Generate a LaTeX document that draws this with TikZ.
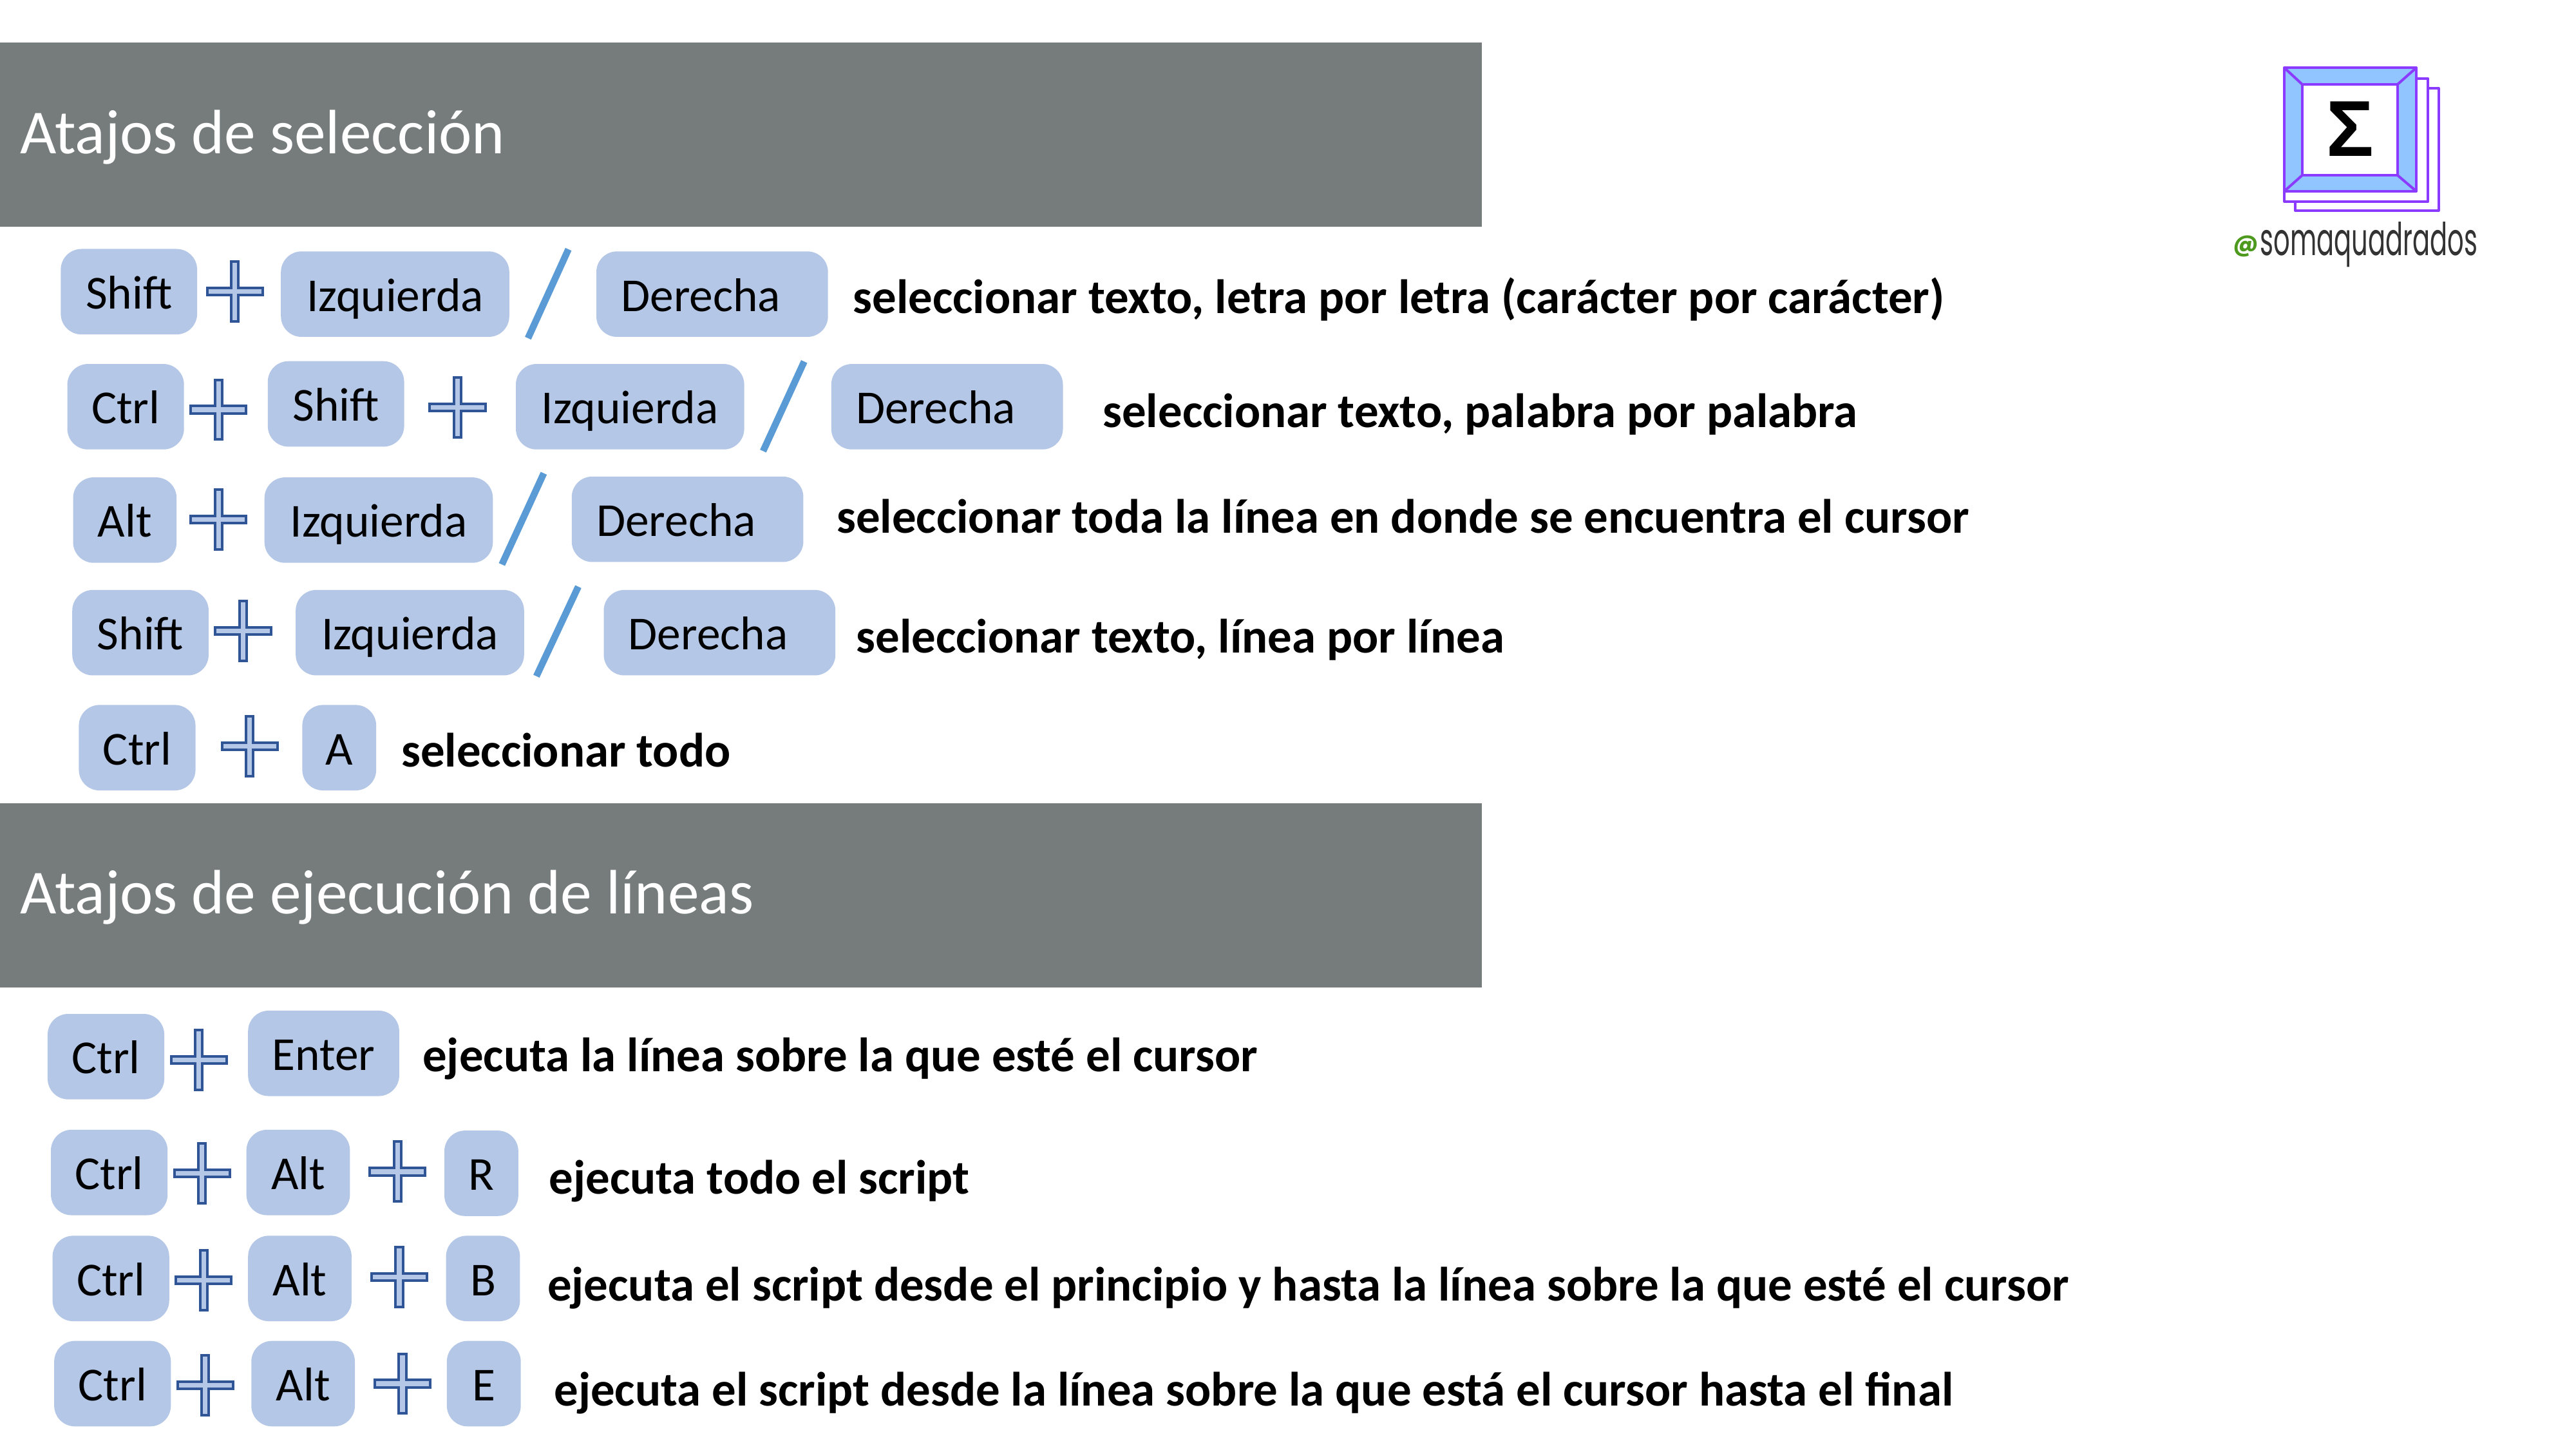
\documentclass[tikz,border=0pt]{standalone}
\usepackage{fontspec}
\setmainfont{Carlito}
\newfontfamily\logofont[FakeStretch=0.57]{Poppins}
\newfontfamily\atfont{Poppins}
\newfontfamily\sigmafont{Liberation Sans}
\usetikzlibrary{positioning}
\newcommand{\unit}{0.02551cm}
\definecolor{bannergray}{HTML}{767B7B}
\definecolor{keyblue}{HTML}{B4C7E7}
\definecolor{plusblue}{HTML}{2F5597}
\definecolor{slashblue}{HTML}{5B9BD5}
\definecolor{logopurple}{HTML}{8A3BFF}
\definecolor{logoblue}{HTML}{90C5FF}
\definecolor{logogreen}{HTML}{4E9A1E}

\begin{document}
\begin{tikzpicture}[
  x=\unit, y=-\unit,
  banner/.style={
    fill=bannergray,
    minimum width=902*\unit,
    minimum height=112*\unit,
    inner sep=0pt
  },
  bannertext/.style={anchor=base west, inner sep=0pt, text=white, font=\fontsize{27.7}{28}\selectfont},
  keycap/.style={
    fill=keyblue,
    rounded corners=0.32cm,
    minimum height=52*\unit,
    inner sep=0pt,
    text height=0.6cm,
    text depth=0.07cm,
    font=\fontsize{20.9}{21}\selectfont
  },
  shiftkey/.style={keycap, minimum width=83*\unit},
  ctrlkey/.style={keycap, minimum width=71*\unit},
  altkey/.style={keycap, minimum width=63*\unit},
  izqkey/.style={keycap, minimum width=139*\unit},
  derkey/.style={keycap, minimum width=141*\unit, text width=111*\unit, align=left},
  enterkey/.style={keycap, minimum width=92*\unit},
  letterkey/.style={keycap, minimum width=45*\unit},
  desc/.style={anchor=base west, inner sep=0pt, font=\fontsize{21.3}{21}\selectfont\bfseries},
  slashline/.style={draw=slashblue, line width=0.105cm},
  plussign/.pic={
    \draw[draw=plusblue, fill=keyblue, line width=0.04cm]
      (-2.2,-18.2) -- (2.2,-18.2) -- (2.2,-2.2) -- (16.9,-2.2) -- (16.9,2.2) -- (2.2,2.2)
      -- (2.2,18.2) -- (-2.2,18.2) -- (-2.2,2.2) -- (-16.9,2.2) -- (-16.9,-2.2) -- (-2.2,-2.2) -- cycle;
  },
  logoline/.style={draw=logopurple, line width=0.04cm, line join=round},
]
\useasboundingbox[fill=white] (0,0) rectangle (1568,882);

% Selection banner.
\node[banner] (bannersel) at (451,82) {};
\node[bannertext] (titlesel) at (12,93.4) {Atajos de selección};

% Row 1.
\node[shiftkey] (shifta) at (78.5,177.5) {Shift};
\pic at (143,177.5) {plussign};
\node[izqkey] (izqa) at (240.5,179) {Izquierda};
\draw[slashline] (321.4,205.8) -- (346,151.7);
\node[derkey] (dera) at (433.5,179) {Derecha};
\node[desc] (desca) at (519,190.7) {seleccionar texto, letra por letra (carácter por carácter)};

% Row 2.
\node[ctrlkey] (ctrlb) at (76.5,247.5) {Ctrl};
\pic at (133,249.3) {plussign};
\node[shiftkey] (shiftb) at (204.5,245.8) {Shift};
\pic at (278.5,248) {plussign};
\node[izqkey] (izqb) at (383.5,247.5) {Izquierda};
\draw[slashline] (464.5,274.5) -- (489.5,220);
\node[derkey] (derb) at (576.5,247.5) {Derecha};
\node[desc] (descb) at (671,260) {seleccionar texto, palabra por palabra};

% Row 3.
\node[altkey] (altc) at (76,316.5) {Alt};
\pic at (133,316) {plussign};
\node[izqkey] (izqc) at (230.5,316.5) {Izquierda};
\draw[slashline] (305.5,343.5) -- (331,288);
\node[derkey] (derc) at (418.5,316) {Derecha};
\node[desc] (descc) at (509,324.2) {seleccionar toda la línea en donde se encuentra el cursor};

% Row 4.
\node[shiftkey] (shiftd) at (85.5,385) {Shift};
\pic at (148,384) {plussign};
\node[izqkey] (izqd) at (249.5,385) {Izquierda};
\draw[slashline] (326.5,411.5) -- (352,357);
\node[derkey] (derd) at (438,385) {Derecha};
\node[desc] (descd) at (521,397.4) {seleccionar texto, línea por línea};

% Row 5.
\node[ctrlkey] (ctrle) at (83.5,455) {Ctrl};
\pic at (152,454) {plussign};
\node[letterkey] (keya) at (206.5,455) {A};
\node[desc] (desce) at (244,466.7) {seleccionar todo};

% Execution banner.
\node[banner] (bannerexe) at (451,545) {};
\node[bannertext] (titleexe) at (12,555.9) {Atajos de ejecución de líneas};

% Row 6.
\node[ctrlkey] (ctrlf) at (64.5,643) {Ctrl};
\pic at (121,645) {plussign};
\node[enterkey] (enterf) at (197,641) {Enter};
\node[desc] (descf) at (257,652.2) {ejecuta la línea sobre la que esté el cursor};

% Row 7.
\node[ctrlkey] (ctrlg) at (66.5,713.5) {Ctrl};
\pic at (123,714) {plussign};
\node[altkey] (altg) at (181.5,713.5) {Alt};
\pic at (242,713) {plussign};
\node[letterkey] (keyr) at (293,714) {R};
\node[desc] (descg) at (334,726.7) {ejecuta todo el script};

% Row 8.
\node[ctrlkey] (ctrlh) at (67.5,778) {Ctrl};
\pic at (124,779) {plussign};
\node[altkey] (alth) at (182.5,778) {Alt};
\pic at (243,777) {plussign};
\node[letterkey] (keyb) at (294,778) {B};
\node[desc] (desch) at (333,791.7) {ejecuta el script desde el principio y hasta la línea sobre la que esté el cursor};

% Row 9.
\node[ctrlkey] (ctrli) at (68.5,842) {Ctrl};
\pic at (125,843) {plussign};
\node[altkey] (alti) at (184.5,842) {Alt};
\pic at (245,842) {plussign};
\node[letterkey] (keye) at (294.5,842) {E};
\node[desc] (desci) at (337,855.7) {ejecuta el script desde la línea sobre la que está el cursor hasta el final};

% Logo.
\draw[logoline, fill=white] (1397.2,53.7) rectangle (1484.3,128.2);
\draw[logoline, fill=white] (1390.6,47.8) rectangle (1477.9,122.7);
\draw[logoline, fill=logoblue] (1390.4,41.2) rectangle (1470.8,116.4);
\draw[logoline, fill=white] (1401.4,51.4) rectangle (1459.3,106.6);
\draw[logoline] (1390.4,41.2) -- (1401.4,51.4);
\draw[logoline] (1470.8,41.2) -- (1459.3,51.4);
\draw[logoline] (1390.4,116.4) -- (1401.4,106.6);
\draw[logoline] (1470.8,116.4) -- (1459.3,106.6);
\node[inner sep=0pt, font=\sigmafont\bfseries\fontsize{35}{35}\selectfont] (sigma) at (1430.5,78.5) {Σ};
\node[anchor=base west, inner sep=0pt, text=logogreen, font=\atfont\bfseries\fontsize{10.5}{11}\selectfont] (logoat) at (1359,153) {@};
\node[anchor=base west, inner sep=0pt, text=black!80, font=\logofont\fontsize{20}{20}\selectfont] (logoname) at (1375.5,155.5) {somaquadrados};

\end{tikzpicture}
\end{document}
